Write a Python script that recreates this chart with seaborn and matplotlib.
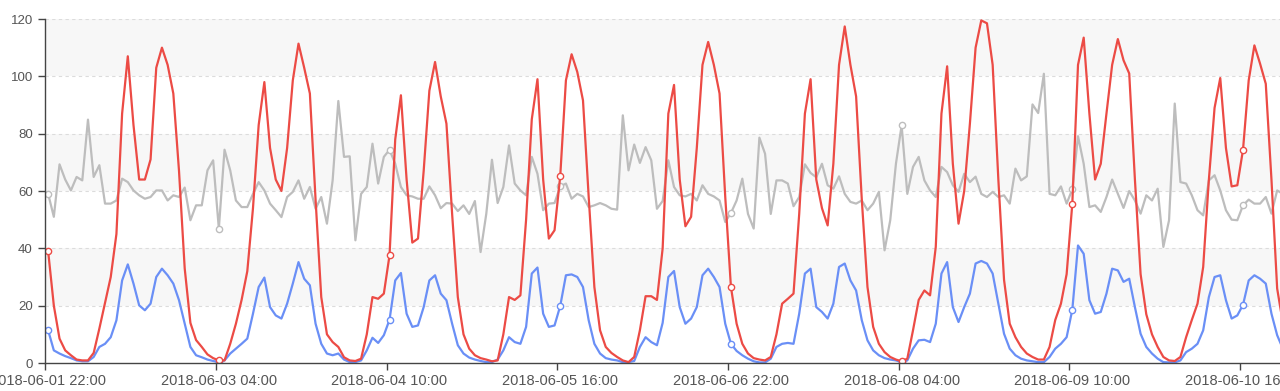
import matplotlib
matplotlib.use("Agg")
import matplotlib.pyplot as plt
import numpy as np
import pandas as pd
import seaborn as sns

# hourly values (first point = 2018-06-01 22:00)
red = [
    39, 20, 8.5, 4.4, 2.7, 1.2, 0.9, 0.9, 3.5, 12,
    21, 30, 45, 87, 107, 83, 64, 64, 71, 103,
    110, 104, 94, 67, 33, 14, 8, 5.6, 3, 1.7,
    0.9, 0.9, 6.7, 13.7, 22, 32, 54, 83, 98, 75,
    64, 60, 75, 98.6, 111.4, 103, 94, 57, 23, 10,
    7.3, 5.6, 2, 0.9, 0.7, 1.5, 10, 23, 22.4, 24.2,
    37.6, 78, 93.4, 64, 42, 43.4, 67, 95, 105, 93,
    83.5, 52, 23, 10, 5, 2.7, 1.7, 1.2, 0.6, 0.9,
    10, 23, 22, 23.6, 50, 85, 99, 64, 43.4, 46.3,
    65.2, 98.6, 107.7, 101.5, 91.6, 58, 26.5, 11.4, 5.6, 3.5,
    2.1, 0.9, 0.3, 2.1, 11.4, 23.3, 23.3, 22, 40, 87,
    97, 64, 47.7, 51, 75, 104, 112, 104, 94, 58,
    26.5, 13.7, 6.7, 3.3, 1.7, 1.2, 0.9, 2.1, 10, 20.7,
    22.4, 24.2, 52, 87, 99, 64, 54, 48, 69.5, 104,
    117.4, 104, 93, 57, 26.5, 12.6, 6.7, 3.8, 2.1, 1.2,
    0.6, 1.5, 11.4, 22, 25.3, 23.6, 40.5, 87, 103.5, 69.5,
    48.6, 60, 83.5, 110, 119.5, 118.5, 104, 64, 29, 13.7,
    9, 5.6, 3.3, 2.1, 1.2, 1.2, 5.6, 15, 20.7, 31,
    55.6, 104, 113.5, 87, 64, 69.5, 87, 104, 113, 105.6,
    101, 64, 31, 17, 10, 5.6, 2.1, 0.9, 0.7, 2.1,
    9, 15, 20.7, 33.5, 64, 89, 99.4, 75, 61.6, 62,
    74.4, 98.6, 110.8, 104.4, 97.4, 64, 26, 14,
]

blue = [
    11.4, 4.4, 3.3, 2.4, 1.7, 0.9, 0.6, 0.6, 2.1, 5.6,
    6.7, 9, 14.9, 28.8, 34.4, 27.7, 20.1, 18.4, 20.7, 30,
    32.9, 30.6, 27.7, 21.9, 13.7, 5.6, 2.7, 2, 1.2, 0.7,
    0.3, 0.9, 3.3, 5, 6.7, 8.5, 17.2, 26.5, 29.8, 19.5,
    16.6, 15.5, 20.7, 27.7, 35.2, 29.4, 27.1, 13.7, 6.7, 3.3,
    2.7, 3.3, 1.2, 0.3, 0.3, 0.9, 4.4, 8.8, 7, 9.7,
    15.1, 28.8, 31.4, 17.2, 12.6, 13.1, 19.5, 28.8, 30.6, 24.2,
    21.9, 13.7, 6.2, 3.3, 1.9, 1.2, 0.7, 0.3, 0.3, 1.2,
    4.4, 9, 7.3, 6.7, 12.6, 31.2, 33.3, 17.2, 12.6, 13.1,
    19.9, 30.6, 30.9, 30, 26.5, 14.9, 6.7, 3.3, 1.7, 1.2,
    0.9, 0.3, 0.3, 0.7, 5.6, 9, 7.3, 6.2, 14, 30,
    32.1, 19.5, 13.7, 15.5, 19.5, 30.6, 32.9, 30, 26.5, 13.7,
    6.7, 4.2, 2.7, 1.5, 0.6, 0.2, 0.2, 1.5, 5.6, 6.7,
    7, 6.7, 17.2, 31.2, 32.9, 19.5, 17.8, 15.5, 20.7, 33.5,
    34.7, 28.8, 25.3, 14.9, 7.9, 4.4, 2.7, 1.7, 1.2, 0.9,
    0.3, 0.9, 5, 7.9, 8.1, 7.3, 13.7, 31.2, 35.2, 19.5,
    14.3, 19.5, 24.2, 34.7, 35.6, 34.7, 31.2, 20.7, 10.2, 5,
    2.7, 1.5, 0.9, 0.6, 0.3, 0.3, 2.1, 5, 6.7, 9,
    18.6, 41, 38.1, 21.9, 17.2, 17.8, 24.2, 32.9, 32.3, 28.3,
    29.4, 19.5, 10.2, 5.6, 3.3, 1.5, 0.3, 0.2, 0.2, 0.9,
    3.8, 5, 6.7, 11.4, 23, 30, 30.6, 21.9, 15.5, 16.6,
    20.3, 28.8, 30.6, 29.4, 27.7, 17.2, 9.7, 5,
]

gray = [
    59, 51, 69.3, 64, 60.2, 64.9, 63.7, 84.9, 64.9, 69,
    55.6, 55.6, 56.7, 64.3, 63.1, 60.2, 58.5, 57.3, 57.9, 60.2,
    60.2, 56.7, 58.5, 57.9, 61.2, 49.8, 55, 55, 67.2, 70.7,
    46.9, 74.4, 67.2, 56.7, 54.4, 54.4, 59, 63.1, 60.2, 55.6,
    53.3, 50.9, 57.9, 59.7, 63.7, 57.3, 61.4, 53.8, 57.9, 48.6,
    63.7, 91.4, 71.9, 72.1, 42.8, 59, 61.4, 76.5, 62.6, 71.9,
    74.4, 69.5, 61.4, 58.5, 58.1, 57.3, 57.3, 61.6, 58.5, 54,
    55.8, 55.6, 53, 55, 52, 56.5, 38.7, 52, 70.9, 55.8,
    61.4, 75.9, 62.6, 60.2, 58.5, 71.9, 66, 53.3, 55.6, 55.8,
    61.6, 62.6, 57.3, 59, 58.1, 54.4, 55, 55.8, 55, 53.8,
    53.5, 86.4, 67.2, 76.2, 69.8, 75.3, 70.7, 53.8, 56.5, 70.7,
    61.4, 58.5, 58.1, 59, 56.7, 62, 59, 58.1, 56.7, 49.2,
    52.3, 56.7, 64.3, 52, 46.9, 78.6, 73, 52, 63.7, 63.7,
    62.6, 54.7, 57.9, 69.3, 66.3, 64.8, 69.5, 62, 60.8, 65.1,
    59, 56.2, 55.6, 56.7, 53.3, 55.6, 59.7, 39.3, 49.8, 69.5,
    82.9, 59, 68.4, 71.9, 63.7, 60.2, 57.9, 68.4, 66.6, 62,
    59.7, 66, 63.1, 65, 59, 57.9, 59.7, 57.9, 58.5, 55.6,
    67.8, 63.7, 65.1, 90.2, 87.2, 100.9, 59, 58.5, 61.6, 55.6,
    60.6, 79.1, 69.5, 54.4, 55, 52.7, 57.9, 64, 59, 54.1,
    60, 56.7, 52.1, 58.5, 56.7, 60.8, 40.5, 49.8, 90.5, 63.1,
    62.6, 58.5, 53.3, 51.5, 63.7, 65.5, 60.2, 53.3, 50, 49.8,
    55, 57, 55.6, 55.6, 57.9, 52.1, 60.2, 59,
]

tick_labels = [
    "2018-06-01 22:00", "2018-06-03 04:00", "2018-06-04 10:00",
    "2018-06-05 16:00", "2018-06-06 22:00", "2018-06-08 04:00",
    "2018-06-09 10:00", "2018-06-10 16:00",
]

df = pd.DataFrame({"hour": np.arange(len(red)), "red": red, "blue": blue, "gray": gray})

sns.set_style("white")
plt.rcParams["font.family"] = ["Liberation Sans", "DejaVu Sans"]

fig = plt.figure(figsize=(12.8, 3.91), dpi=100)
ax = fig.add_axes([45.3 / 1280, 28 / 391, 1 - 45.3 / 1280, 344 / 391])

# alternating split bands + dashed grid
for lo in (20, 60, 100):
    ax.axhspan(lo, lo + 20, color="#f7f7f7", lw=0, zorder=0)
for y in range(20, 121, 20):
    ax.axhline(y, color="#dcdcdc", lw=0.8, ls=(0, (3, 3)), zorder=0.5)

style = dict(lw=1.6, marker="o", markevery=30, markersize=4.5,
             markerfacecolor="white", markeredgewidth=1.0,
             solid_joinstyle="round", zorder=2)
for col, c in [("gray", "#bdbdbd"), ("blue", "#6a8ff6"), ("red", "#ec4b45")]:
    sns.lineplot(data=df, x="hour", y=col, ax=ax, color=c,
                 markeredgecolor=c, **style)

ax.set_xlim(-0.5, 216.5)
ax.set_ylim(0, 120)
ax.set_xlabel("")
ax.set_ylabel("")

ax.set_xticks(np.arange(0, 211, 30))
ax.set_xticklabels(tick_labels)
ax.set_xticks(np.arange(-0.5, 211, 30), minor=True)
ax.tick_params(axis="x", which="major", length=0, pad=8,
               labelsize=10.5, labelcolor="#555555")
ax.tick_params(axis="x", which="minor", length=5, width=1,
               color="#444444", bottom=True)
ax.set_yticks(range(0, 121, 20))
ax.tick_params(axis="y", length=5, width=1, color="#444444", left=True,
               pad=4, labelsize=9.5, labelcolor="#555555")

for s in ("top", "right"):
    ax.spines[s].set_visible(False)
for s in ("left", "bottom"):
    ax.spines[s].set_color("#444444")
    ax.spines[s].set_linewidth(1)

fig.savefig("out.png", dpi=100)
